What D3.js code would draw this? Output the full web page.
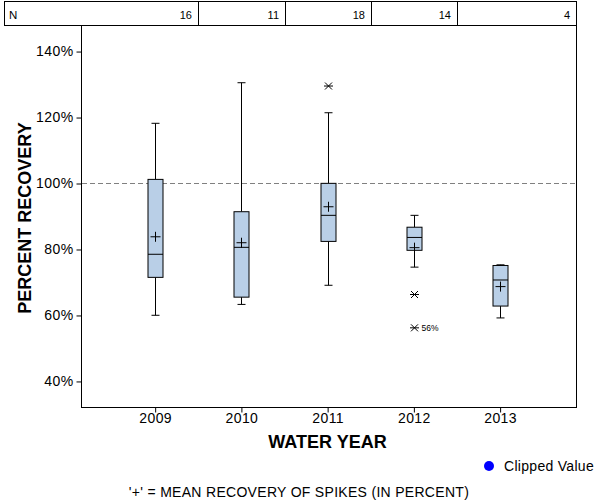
<!DOCTYPE html>
<html><head><meta charset="utf-8">
<script src="https://cdn.jsdelivr.net/npm/d3@7"></script>
<style>body{margin:0;background:#fff}svg{display:block}text{font-family:"Liberation Sans",Arial,sans-serif}</style>
</head><body>
<svg id="c" width="600" height="500"></svg>
<script>
const years = [2009, 2010, 2011, 2012, 2013];
const counts = [16, 11, 18, 14, 4];
const whiskerLow  = [59.9, 63.2, 69.0, 74.5, 59.1];
const q1          = [71.4, 65.4, 82.3, 79.6, 62.7];
const medians     = [78.4, 80.5, 90.2, 83.5, 70.6];
const q3          = [101.1, 91.3, 99.9, 86.6, 75.0];
const whiskerHigh = [118.1, 130.4, 121.3, 90.2, 75.2];
const means       = [83.7, 81.9, 92.8, 80.4, 68.6];
const outlierYears  = [2011, 2012, 2012];
const outlierValues = [129.4, 66.2, 56.1];
const outlierLabels = ["", "", "56%"];
const yTicks = [40, 60, 80, 100, 120, 140];

const svg = d3.select("#c");
const L = 81, R = 576, T = 25, B = 407;
const x = d3.scaleLinear().domain([2008.14, 2013.88]).range([L, R]);
const y = d3.scaleLinear().domain([32.1, 147.9]).range([B, T]);

// N table
const tbl = svg.append("g");
tbl.append("rect").attr("x", 4.5).attr("y", 1.5).attr("width", R - 4).attr("height", 24)
  .attr("fill", "none").attr("stroke", "#000");
const divs = years.slice(0, -1).map((yr) => x(yr + 0.5));
divs.forEach(d => tbl.append("line").attr("x1", Math.round(d) + 0.5).attr("x2", Math.round(d) + 0.5)
  .attr("y1", 1).attr("y2", 25).attr("stroke", "#000"));
tbl.append("text").attr("x", 9).attr("y", 19).attr("font-size", 11.5).text("N");
const rights = divs.concat([R]);
counts.forEach((c, i) => tbl.append("text").attr("x", Math.round(rights[i]) - 6).attr("y", 19)
  .attr("font-size", 11).attr("text-anchor", "end").text(c));

// plot frame
svg.append("rect").attr("x", L + 0.5).attr("y", T + 0.5).attr("width", R - L).attr("height", B - T)
  .attr("fill", "none").attr("stroke", "#000");

// axes
const ya = svg.append("g").attr("transform", `translate(${L + 0.5},0)`)
  .call(d3.axisLeft(y).tickValues(yTicks).tickFormat(d => d + "%").tickSize(5).tickPadding(3));
const xa = svg.append("g").attr("transform", `translate(0,${B + 0.5})`)
  .call(d3.axisBottom(x).tickValues(years).tickFormat(d3.format("d")).tickSize(5).tickPadding(1));
[ya, xa].forEach(a => {
  a.select(".domain").remove();
  a.selectAll("text").attr("font-size", 14).attr("fill", "#000").style("letter-spacing", "0.4px")
    .style("font-family", '"Liberation Sans",Arial,sans-serif');
  a.selectAll("line").attr("stroke", "#000");
});
ya.selectAll(".tick line").attr("transform", "translate(0,0.5)");

// reference line
svg.append("line").attr("x1", L + 1).attr("x2", R).attr("y1", Math.round(y(100)) + 0.5).attr("y2", Math.round(y(100)) + 0.5)
  .attr("stroke", "#808080").attr("stroke-dasharray", "5,3");

// boxes
const bw = 15, cw = 8;
const g = svg.append("g").attr("stroke", "#000").attr("stroke-width", 1);
years.forEach((yr, i) => {
  const cx = Math.round(x(yr)) + 0.5;
  g.append("line").attr("x1", cx).attr("x2", cx).attr("y1", y(whiskerHigh[i])).attr("y2", y(q3[i]));
  g.append("line").attr("x1", cx).attr("x2", cx).attr("y1", y(q1[i])).attr("y2", y(whiskerLow[i]));
  g.append("line").attr("x1", cx - cw / 2).attr("x2", cx + cw / 2).attr("y1", y(whiskerHigh[i])).attr("y2", y(whiskerHigh[i]));
  g.append("line").attr("x1", cx - cw / 2).attr("x2", cx + cw / 2).attr("y1", y(whiskerLow[i])).attr("y2", y(whiskerLow[i]));
  g.append("rect").attr("x", cx - bw / 2).attr("y", y(q3[i])).attr("width", bw).attr("height", y(q1[i]) - y(q3[i]))
    .attr("fill", "#b9cfe7");
  g.append("line").attr("x1", cx - bw / 2).attr("x2", cx + bw / 2).attr("y1", y(medians[i])).attr("y2", y(medians[i]));
  const my = y(means[i]);
  g.append("line").attr("x1", cx - 5).attr("x2", cx + 5).attr("y1", my).attr("y2", my);
  g.append("line").attr("x1", cx).attr("x2", cx).attr("y1", my - 5).attr("y2", my + 5);
});

// outliers
outlierValues.forEach((v, i) => {
  const cx = Math.round(x(outlierYears[i])) + 0.5, cy = y(v);
  g.append("path").attr("d", `M${cx - 3.5},${cy - 3.5}L${cx + 3.5},${cy + 3.5}M${cx - 3.5},${cy + 3.5}L${cx + 3.5},${cy - 3.5}M${cx - 4.5},${cy}L${cx + 4.5},${cy}`);
  if (outlierLabels[i]) svg.append("text").attr("x", cx + 7).attr("y", cy + 3).attr("font-size", 8.5)
    .text(outlierLabels[i]);
});

// titles
svg.append("text").attr("transform", `translate(31,${(T + B) / 2 + 2}) rotate(-90)`).attr("text-anchor", "middle")
  .attr("font-size", 18).attr("font-weight", "bold").text("PERCENT RECOVERY");
svg.append("text").attr("x", (L + R) / 2 -1).attr("y", 448).attr("text-anchor", "middle")
  .attr("font-size", 18).attr("font-weight", "bold").text("WATER YEAR");

// legend
svg.append("circle").attr("cx", 489).attr("cy", 466).attr("r", 5).attr("fill", "#0000ff");
svg.append("text").attr("x", 504).attr("y", 471).attr("font-size", 14).style("letter-spacing", "0.3px").text("Clipped Value");
svg.append("text").attr("x", 299).attr("y", 497).attr("text-anchor", "middle").attr("font-size", 14)
  .style("letter-spacing", "0.3px")
  .text("'+' = MEAN RECOVERY OF SPIKES (IN PERCENT)");
</script>
</body></html>
